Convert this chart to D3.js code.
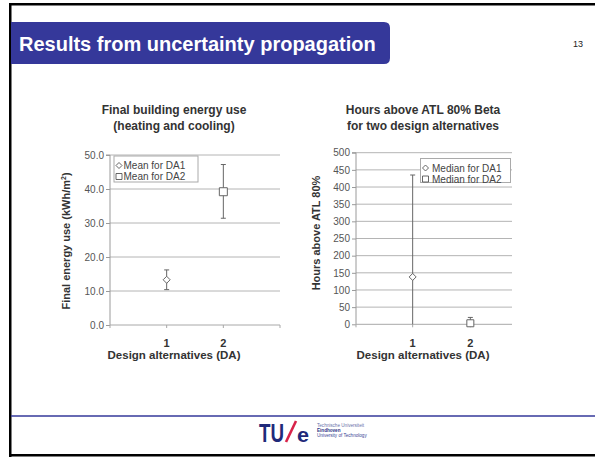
<!DOCTYPE html>
<html>
<head>
<meta charset="utf-8">
<script src="https://cdn.jsdelivr.net/npm/d3@7"></script>
<style>
  html, body { margin: 0; padding: 0; background: #fff; }
  svg { display: block; font-family: "Liberation Sans", Arial, sans-serif; }
</style>
</head>
<body>
<svg id="slide" width="595" height="457"></svg>
<script>
// ---- data ----
const designAlternatives = [1, 2];

// Final building energy use (kWh/m2): mean and spread per design alternative
const energyMean = [13.3, 39.2];
const energyLow = [10.4, 31.4];
const energyHigh = [16.2, 47.2];
const energyTicks = [0, 10, 20, 30, 40, 50];
const energyLegend = ["Mean for DA1", "Mean for DA2"];

// Hours above ATL 80% Beta: median and spread per design alternative
const hoursMedian = [138, 3];
const hoursLow = [0, 0];
const hoursHigh = [435, 20];
const hoursTicks = [0, 50, 100, 150, 200, 250, 300, 350, 400, 450, 500];
const hoursLegend = ["Median for DA1", "Median for DA2"];

const xTicks = [0, 1, 2, 3];

// ---- slide frame ----
const svg = d3.select("#slide");
const blue = "#35389a";

svg.append("rect").attr("x", 9).attr("y", 3).attr("width", 586).attr("height", 2.5).attr("fill", "#000");
svg.append("rect").attr("x", 9).attr("y", 3).attr("width", 2.5).attr("height", 454).attr("fill", "#000");
svg.append("rect").attr("x", 9).attr("y", 454).attr("width", 586).attr("height", 2.5).attr("fill", "#000");
svg.append("line").attr("x1", 11).attr("x2", 595).attr("y1", 416).attr("y2", 416)
  .attr("stroke", blue).attr("stroke-width", 1.5);

// title banner, rounded on the right
const bx0 = 11, bx1 = 390, by0 = 22, by1 = 64, r = 6;
svg.append("path")
  .attr("d", `M${bx0},${by0} H${bx1 - r} Q${bx1},${by0} ${bx1},${by0 + r} V${by1 - r} Q${bx1},${by1} ${bx1 - r},${by1} H${bx0} Z`)
  .attr("fill", blue);
svg.append("text").attr("x", 19).attr("y", 50.5)
  .attr("fill", "#fff").attr("font-weight", "bold").attr("font-size", 20)
  .text("Results from uncertainty propagation");
svg.append("text").attr("x", 583).attr("y", 47).attr("text-anchor", "end")
  .attr("font-size", 9).attr("fill", "#222").text("13");

// ---- chart panels ----
function markerPath(kind, s) {
  if (kind === "diamond") return `M0,${-s} L${s},0 L0,${s} L${-s},0 Z`;
  return `M${-s},${-s} H${s} V${s} H${-s} Z`;
}

function drawPanel(cfg) {
  const g = svg.append("g");
  const x = d3.scaleLinear().domain([0, 3]).range(cfg.xRange);
  const y = d3.scaleLinear().domain(cfg.yDomain).range(cfg.yRange);
  const left = cfg.axisX, right = cfg.plotRight;

  // horizontal gridlines
  g.append("g").selectAll("line").data(cfg.yTicks.filter(d => d > cfg.yDomain[0]))
    .join("line")
    .attr("x1", left).attr("x2", right)
    .attr("y1", d => y(d)).attr("y2", d => y(d))
    .attr("stroke", "#b4b4b4").attr("stroke-width", 1);

  // y axis
  const yAxis = d3.axisLeft(y).tickValues(cfg.yTicks).tickSize(4).tickPadding(2)
    .tickFormat(cfg.yFormat);
  const ya = g.append("g").attr("transform", `translate(${left},0)`).call(yAxis);
  ya.select(".domain").attr("stroke", "#9a9a9a").attr("d", `M-4,${y(cfg.yDomain[1])}H0V${y(cfg.yDomain[0])}`);
  ya.selectAll(".tick line").attr("stroke", "#9a9a9a");
  ya.selectAll(".tick text").attr("fill", "#555").attr("font-size", 10)
    .attr("font-family", "Liberation Sans, Arial, sans-serif");

  // x axis baseline with tick marks
  g.append("line").attr("x1", left).attr("x2", right)
    .attr("y1", y(cfg.yDomain[0])).attr("y2", y(cfg.yDomain[0]))
    .attr("stroke", "#a8a8a8");
  g.append("g").selectAll("line").data(xTicks.filter(d => x(d) <= right + 0.5))
    .join("line")
    .attr("x1", d => Math.max(x(d), left)).attr("x2", d => Math.max(x(d), left))
    .attr("y1", y(cfg.yDomain[0])).attr("y2", y(cfg.yDomain[0]) + 3)
    .attr("stroke", "#a8a8a8");

  // category labels
  g.append("g").selectAll("text").data(designAlternatives).join("text")
    .attr("x", d => x(d)).attr("y", cfg.catY).attr("text-anchor", "middle")
    .attr("font-weight", "bold").attr("font-size", 11).attr("fill", "#333")
    .text(d => d);

  // error bars
  const eb = g.append("g").attr("stroke", "#666").attr("stroke-width", 1);
  designAlternatives.forEach((d, i) => {
    eb.append("line").attr("x1", x(d)).attr("x2", x(d))
      .attr("y1", y(cfg.low[i])).attr("y2", y(cfg.high[i]));
    [cfg.low[i], cfg.high[i]].forEach(v => {
      if (v <= cfg.yDomain[0]) return;
      eb.append("line").attr("x1", x(d) - 2.5).attr("x2", x(d) + 2.5)
        .attr("y1", y(v)).attr("y2", y(v));
    });
  });

  // markers
  const kinds = ["diamond", "square"];
  designAlternatives.forEach((d, i) => {
    g.append("path").attr("d", markerPath(kinds[i], cfg.markerSize[i]))
      .attr("transform", `translate(${x(d)},${y(cfg.center[i])})`)
      .attr("fill", "#fff").attr("stroke", "#666").attr("stroke-width", 1);
  });

  // legend
  const lg = g.append("g");
  lg.append("rect").attr("x", cfg.legend[0]).attr("y", cfg.legend[1])
    .attr("width", cfg.legend[2]).attr("height", cfg.legend[3])
    .attr("fill", "#fff").attr("stroke", "#aaa");
  cfg.legendLabels.forEach((t, i) => {
    const ly = cfg.legend[1] + 9.5 + i * 11;
    lg.append("path").attr("d", markerPath(kinds[i], 3))
      .attr("transform", `translate(${cfg.legend[0] + cfg.legendMarkerDx},${ly})`)
      .attr("fill", "#fff").attr("stroke", "#555").attr("stroke-width", 0.9);
    lg.append("text").attr("x", cfg.legend[0] + cfg.legendTextDx).attr("y", ly + 3.5)
      .attr("font-size", 10).attr("fill", "#444").text(t);
  });

  // titles
  cfg.title.forEach((t, i) => {
    g.append("text").attr("x", cfg.titleX).attr("y", 114 + i * 16)
      .attr("text-anchor", "middle").attr("font-weight", "bold").attr("font-size", 12)
      .attr("fill", "#333").text(t);
  });
  g.append("text").attr("x", cfg.titleX).attr("y", 359)
    .attr("text-anchor", "middle").attr("font-weight", "bold").attr("font-size", 11.5)
    .attr("fill", "#333").text("Design alternatives (DA)");

  const yl = g.append("text")
    .attr("transform", `translate(${cfg.yLabelPos[0]},${cfg.yLabelPos[1]}) rotate(-90)`)
    .attr("text-anchor", "middle").attr("font-weight", "bold").attr("font-size", 11)
    .attr("fill", "#333");
  yl.text(cfg.yLabel);
  if (cfg.yLabelSup) {
    yl.append("tspan").attr("font-size", 7).attr("dy", -4).text(cfg.yLabelSup);
    yl.append("tspan").attr("dy", 4).text(")");
  }
}

drawPanel({
  xRange: [110, 280], axisX: 110, plotRight: 280,
  yDomain: [0, 50], yRange: [325, 155], yTicks: energyTicks,
  yFormat: d3.format(".1f"),
  center: energyMean, low: energyLow, high: energyHigh,
  markerSize: [3.5, 4],
  legend: [114, 156, 84, 26], legendMarkerDx: 5, legendTextDx: 9.5,
  legendLabels: energyLegend,
  title: ["Final building energy use", "(heating and cooling)"], titleX: 174,
  catY: 347,
  yLabel: "Final energy use (kWh/m", yLabelSup: "2", yLabelPos: [70, 241]
});

drawPanel({
  xRange: [355, 528], axisX: 356, plotRight: 512,
  yDomain: [0, 500], yRange: [324.3, 152.7], yTicks: hoursTicks,
  yFormat: d3.format("d"),
  center: hoursMedian, low: hoursLow, high: hoursHigh,
  markerSize: [3.5, 3.5],
  legend: [420.5, 158.5, 90, 24], legendMarkerDx: 5, legendTextDx: 11.5,
  legendLabels: hoursLegend,
  title: ["Hours above ATL 80% Beta", "for two design alternatives"], titleX: 423,
  catY: 347,
  yLabel: "Hours above ATL 80%", yLabelSup: null, yLabelPos: [320, 233]
});

// ---- university logo ----
const logo = svg.append("g");
logo.append("text").attr("x", 259).attr("y", 442)
  .attr("font-weight", "bold").attr("font-size", 25).attr("fill", "#1f2a7a")
  .attr("textLength", 25).attr("lengthAdjust", "spacingAndGlyphs").text("TU");
logo.append("line").attr("x1", 286).attr("y1", 442).attr("x2", 296).attr("y2", 421)
  .attr("stroke", "#d8234a").attr("stroke-width", 2.6);
logo.append("text").attr("x", 297).attr("y", 442)
  .attr("font-weight", "bold").attr("font-size", 20).attr("fill", "#1f2a7a")
  .attr("textLength", 12).attr("lengthAdjust", "spacingAndGlyphs").text("e");
const logoLines = [
  { t: "Technische Universiteit", w: "normal", c: "#6a70a8" },
  { t: "Eindhoven", w: "bold", c: "#2a3484" },
  { t: "University of Technology", w: "normal", c: "#3a4494" }
];
logoLines.forEach((l, i) => {
  logo.append("text").attr("x", 317).attr("y", 427 + i * 5)
    .attr("font-size", 4.6).attr("font-weight", l.w).attr("fill", l.c).text(l.t);
});
</script>
</body>
</html>
